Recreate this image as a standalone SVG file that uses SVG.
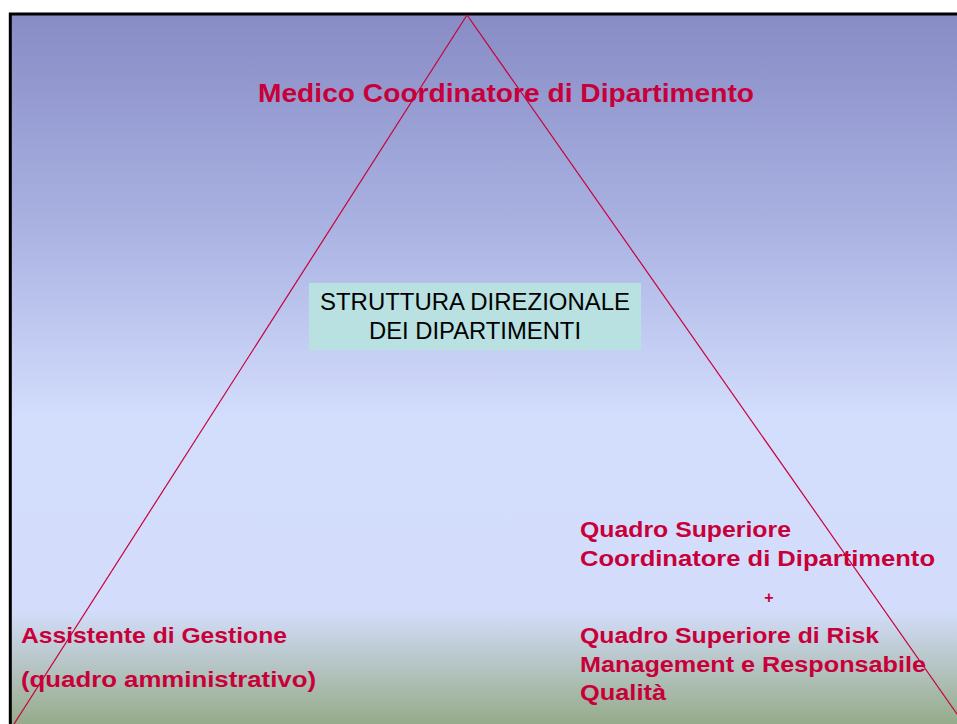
<svg xmlns="http://www.w3.org/2000/svg" width="957" height="724" viewBox="0 0 957 724">
<defs>
<linearGradient id="bg" x1="0" y1="13" x2="0" y2="724" gradientUnits="userSpaceOnUse">
<stop offset="0" stop-color="#878cc5"/>
<stop offset="0.3" stop-color="#aab2e2"/>
<stop offset="0.57" stop-color="#d3ddfc"/>
<stop offset="0.84" stop-color="#d3ddfb"/>
<stop offset="1" stop-color="#96ab8a"/>
</linearGradient>
<style>
.red{fill:#c8003a;font-family:"Liberation Sans",Arial,sans-serif;font-weight:bold;}
.blk{fill:#000;font-family:"Liberation Sans",Arial,sans-serif;font-size:23px;}
.ln{stroke:#c8003a;stroke-width:1.2;fill:none;}
</style>
</defs>
<rect x="0" y="0" width="957" height="724" fill="#ffffff"/>
<rect x="10" y="14" width="960" height="720" fill="url(#bg)"/>
<path d="M10.3,724 V14 H957" fill="none" stroke="#000" stroke-width="3"/>
<g id="connectors">
<line class="ln" x1="467" y1="15" x2="14" y2="724"/>
<line class="ln" x1="467" y1="15" x2="964" y2="724"/>
</g>
<g id="top">
<text class="red" x="258" y="102" font-size="26" textLength="496" lengthAdjust="spacingAndGlyphs">Medico Coordinatore di Dipartimento</text>
</g>
<g id="center">
<rect x="309" y="283" width="332" height="67" fill="#b9e1e1"/>
<text class="blk" x="320" y="310" textLength="310" lengthAdjust="spacingAndGlyphs">STRUTTURA DIREZIONALE</text>
<text class="blk" x="369" y="339" textLength="212" lengthAdjust="spacingAndGlyphs">DEI DIPARTIMENTI</text>
</g>
<g id="left">
<text class="red" x="21" y="643" font-size="22" textLength="266" lengthAdjust="spacingAndGlyphs">Assistente di Gestione</text>
<text class="red" x="21" y="687" font-size="22" textLength="295" lengthAdjust="spacingAndGlyphs">(quadro amministrativo)</text>
</g>
<g id="right">
<text class="red" x="580" y="537" font-size="22" textLength="211" lengthAdjust="spacingAndGlyphs">Quadro Superiore</text>
<text class="red" x="580" y="566" font-size="22" textLength="355" lengthAdjust="spacingAndGlyphs">Coordinatore di Dipartimento</text>
<text class="red" x="769" y="603" font-size="16" text-anchor="middle">+</text>
<text class="red" x="580" y="643" font-size="22" textLength="299" lengthAdjust="spacingAndGlyphs">Quadro Superiore di Risk</text>
<text class="red" x="580" y="672" font-size="22" textLength="346" lengthAdjust="spacingAndGlyphs">Management e Responsabile</text>
<text class="red" x="580" y="700" font-size="22" textLength="86" lengthAdjust="spacingAndGlyphs">Qualità</text>
</g>
</svg>
